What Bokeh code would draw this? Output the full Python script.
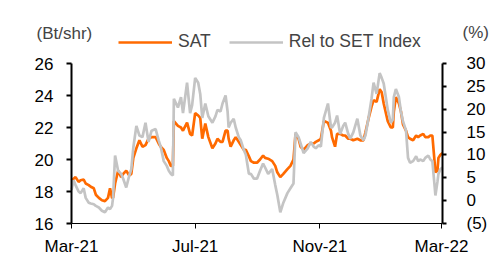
import pandas as pd
from bokeh.plotting import figure
from bokeh.models import (Range1d, LinearAxis, DatetimeAxis, FixedTicker, DatetimeTickFormatter,
                          CustomJSTickFormatter, Legend, LegendItem, Label, ColumnDataSource)
from bokeh.embed import file_html
from bokeh.resources import INLINE

dates = ["2021-03-01","2021-03-03","2021-03-05","2021-03-08","2021-03-10","2021-03-13","2021-03-15",
         "2021-03-18","2021-03-20","2021-03-23","2021-03-25","2021-03-28","2021-03-31","2021-04-03",
         "2021-04-06","2021-04-08","2021-04-10","2021-04-11","2021-04-13","2021-04-16","2021-04-19",
         "2021-04-21","2021-04-24","2021-04-27","2021-04-29","2021-05-01","2021-05-04","2021-05-07",
         "2021-05-10","2021-05-13","2021-05-16","2021-05-19","2021-05-23","2021-05-26","2021-05-28",
         "2021-05-31","2021-06-03","2021-06-05","2021-06-07","2021-06-09","2021-06-10","2021-06-14",
         "2021-06-17","2021-06-19","2021-06-23","2021-06-26","2021-06-28","2021-07-01","2021-07-04",
         "2021-07-06","2021-07-08","2021-07-11","2021-07-14","2021-07-18","2021-07-21","2021-07-23",
         "2021-07-26","2021-07-28","2021-07-31","2021-08-02","2021-08-03","2021-08-05","2021-08-08",
         "2021-08-10","2021-08-13","2021-08-15","2021-08-18","2021-08-20","2021-08-23","2021-08-25",
         "2021-08-28","2021-08-31","2021-09-03","2021-09-06","2021-09-08","2021-09-11","2021-09-15",
         "2021-09-18","2021-09-20","2021-09-23","2021-09-26","2021-09-30","2021-10-03","2021-10-06",
         "2021-10-08","2021-10-11","2021-10-13","2021-10-16","2021-10-20","2021-10-23","2021-10-26",
         "2021-10-28","2021-10-31","2021-11-02","2021-11-05","2021-11-09","2021-11-12","2021-11-13",
         "2021-11-16","2021-11-18","2021-11-21","2021-11-24","2021-11-26","2021-11-29","2021-12-01",
         "2021-12-04","2021-12-08","2021-12-11","2021-12-14","2021-12-16","2021-12-19","2021-12-22",
         "2021-12-24","2021-12-27","2021-12-30","2022-01-01","2022-01-03","2022-01-07","2022-01-10",
         "2022-01-12","2022-01-13","2022-01-15","2022-01-18","2022-01-20","2022-01-22","2022-01-25",
         "2022-01-27","2022-01-29","2022-02-01","2022-02-04","2022-02-06","2022-02-08","2022-02-11",
         "2022-02-13","2022-02-16","2022-02-18","2022-02-20","2022-02-22","2022-02-23","2022-02-25",
         "2022-02-26","2022-02-28","2022-03-02"]

sat = [18.7,18.8,18.9,18.6,18.7,18.75,18.5,18.4,18.3,18.2,17.8,17.6,17.45,17.4,17.6,18.2,17.6,17.6,
       18.5,19.3,18.9,19.1,19.3,19.0,19.1,20.1,20.7,21.2,20.8,20.9,21.3,21.4,21.4,21.0,20.8,20.6,
       20.1,19.9,19.6,19.6,22.4,22.1,22.0,21.8,22.3,21.6,21.5,22.9,22.75,22.6,21.3,22.25,21.4,20.7,
       21.0,21.3,21.1,21.1,21.8,21.8,21.3,20.8,21.2,21.4,21.1,20.9,20.6,20.6,20.2,19.9,19.8,19.8,
       20.0,20.25,20.1,20.05,19.9,19.6,19.2,18.9,19.1,19.4,19.6,20.0,21.6,21.3,20.8,20.6,20.9,21.0,
       21.0,21.1,21.2,21.3,22.4,22.3,21.8,21.4,20.8,21.6,21.6,21.5,21.5,21.3,21.3,21.2,21.3,21.2,
       21.2,21.7,22.55,23.3,23.7,23.6,24.4,24.2,23.5,22.4,22.0,22.0,23.0,23.9,23.5,23.0,22.2,21.8,
       21.4,21.3,21.2,21.5,21.4,21.5,21.6,21.4,21.4,21.5,21.5,20.0,19.2,19.3,20.1,20.3,20.4]

rel = [18.1,18.7,18.4,18.0,17.9,18.2,17.6,17.3,17.25,17.2,17.1,17.0,16.8,16.7,17.0,16.9,17.1,17.6,
       20.25,19.3,19.1,18.8,18.25,19.0,19.4,20.75,22.1,21.5,21.4,22.3,21.1,21.8,21.9,21.2,20.8,19.9,
       19.6,19.3,19.1,19.0,23.8,23.25,23.9,22.9,24.8,22.9,23.4,25.1,24.8,24.1,22.6,23.5,22.7,22.3,
       22.7,23.1,23.0,23.5,24.0,23.0,22.0,22.3,22.55,22.0,21.4,21.2,20.6,20.3,19.1,19.1,18.8,18.8,
       19.3,19.75,19.5,19.1,19.4,18.4,17.8,16.7,17.3,17.9,18.2,18.5,21.7,21.4,21.0,20.4,20.7,21.1,
       20.8,20.7,20.9,20.8,22.6,23.5,22.0,22.0,22.3,22.75,21.6,22.1,22.3,21.6,21.3,21.7,22.55,21.5,
       21.2,21.5,22.6,23.8,24.8,24.1,25.4,25.1,24.75,23.1,22.3,22.5,23.9,24.4,23.9,23.0,22.4,21.8,
       20.1,19.8,19.9,20.2,19.9,20.0,19.9,20.1,20.25,20.0,19.9,18.5,17.75,18.6,19.1,19.4,19.5]

x_ticks = ["2021-03-01", "2021-07-01", "2021-11-01", "2022-03-01"]
left_ticks = [16, 18, 20, 22, 24, 26]
right_ticks = [-5, 0, 5, 10, 15, 20, 25, 30]
series_names = ["SAT", "Rel to SET Index"]
left_unit = "(Bt/shr)"
right_unit = "(%)"

FONT = "Liberation Sans"
FS = "17px"
ORANGE = "#FF6A00"
GREY = "#C4C4C4"
LW = 2.7

W, H = 503, 257
# plot-area box in page pixels
PL, PR, PT, PB = 71, 442, 63, 223
X0, X1 = pd.Timestamp("2021-03-01"), pd.Timestamp("2022-03-02")
Y0, Y1 = 16, 26
R0, R1 = -5, 30

x0_ms = X0.value / 1e6
x1_ms = X1.value / 1e6
ms_per_px = (x1_ms - x0_ms) / (PR - PL)
xr = Range1d(x0_ms - PL * ms_per_px, x1_ms + (W - PR) * ms_per_px)
u_per_px = (Y1 - Y0) / (PB - PT)
yr = Range1d(Y0 - (H - PB) * u_per_px, Y1 + PT * u_per_px)
r_per_px = (R1 - R0) / (PB - PT)
rr = Range1d(R0 - (H - PB) * r_per_px, R1 + PT * r_per_px)

src = ColumnDataSource(dict(d=pd.to_datetime(dates), sat=sat, rel=rel))

p = figure(width=W, height=H, output_backend="svg", toolbar_location=None,
           min_border=0, x_axis_location=None, y_axis_location=None,
           x_range=xr, y_range=yr)
p.extra_y_ranges = {"pct": rr}
p.outline_line_color = None
p.grid.visible = False
p.background_fill_color = "white"

r_sat = p.line("d", "sat", source=src, line_color=ORANGE, line_width=LW)
r_rel = p.line("d", "rel", source=src, line_color=GREY, line_width=LW)

xa = DatetimeAxis(fixed_location=Y0, bounds=(x0_ms, x1_ms),
                  ticker=FixedTicker(ticks=[pd.Timestamp(t).value // 10**6 for t in x_ticks]),
                  formatter=DatetimeTickFormatter(days="%b-%y", months="%b-%y", years="%b-%y",
                                                  hours="%b-%y", minutes="%b-%y"))
xa.axis_line_width = 1
xa.major_tick_in = 0
xa.major_tick_out = 5
xa.major_label_standoff = 8
p.add_layout(xa, "below")

la = LinearAxis(fixed_location=x0_ms, bounds=(Y0, Y1), ticker=FixedTicker(ticks=left_ticks))
la.axis_line_width = 2
la.major_tick_line_width = 2
la.major_tick_in = 0
la.major_tick_out = 5
la.major_label_standoff = 13
p.add_layout(la, "left")

ra = LinearAxis(y_range_name="pct", fixed_location=x1_ms, bounds=(R0, R1),
                ticker=FixedTicker(ticks=right_ticks),
                formatter=CustomJSTickFormatter(code="return tick < 0 ? '(' + Math.abs(tick) + ')' : tick.toString();"))
ra.axis_line_width = 2
ra.major_tick_line_width = 2
ra.major_tick_in = 0
ra.major_tick_out = 4
ra.major_label_standoff = 20
p.add_layout(ra, "right")

for ax in [xa, la, ra]:
    ax.major_label_text_font = FONT
    ax.major_label_text_font_size = FS
    ax.major_label_text_color = "black"
    ax.axis_line_color = "black"
    ax.major_tick_line_color = "black"
    ax.minor_tick_line_color = None

legend = Legend(items=[LegendItem(label=series_names[0], renderers=[r_sat]),
                       LegendItem(label=series_names[1], renderers=[r_rel])],
                orientation="horizontal", location=(118, H - 52), glyph_width=54, glyph_height=20,
                label_standoff=6, spacing=18, padding=0, margin=0,
                border_line_color=None, background_fill_alpha=0,
                label_text_font=FONT, label_text_font_size="17.5px", label_height=20)
p.add_layout(legend, "center")

p.add_layout(Label(x=36, y=H - 33, x_units="screen", y_units="screen", text=left_unit,
                   text_font=FONT, text_font_size=FS, text_baseline="alphabetic"))
p.add_layout(Label(x=462, y=H - 32, x_units="screen", y_units="screen", text=right_unit,
                   text_font=FONT, text_font_size=FS, text_baseline="alphabetic"))

open("out.html", "w").write(file_html(p, INLINE))
